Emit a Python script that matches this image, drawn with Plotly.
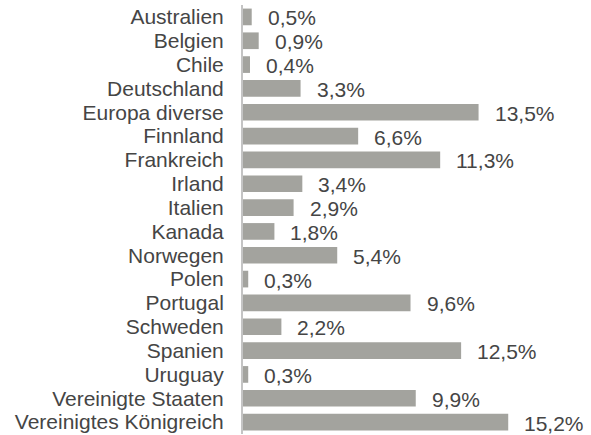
import plotly.graph_objects as go

categories = ["Australien", "Belgien", "Chile", "Deutschland", "Europa diverse", "Finnland",
              "Frankreich", "Irland", "Italien", "Kanada", "Norwegen", "Polen", "Portugal",
              "Schweden", "Spanien", "Uruguay", "Vereinigte Staaten", "Vereinigtes Königreich"]
values = [0.5, 0.9, 0.4, 3.3, 13.5, 6.6, 11.3, 3.4, 2.9, 1.8, 5.4, 0.3, 9.6, 2.2, 12.5, 0.3, 9.9, 15.2]
labels = [f"{v:.1f}%".replace(".", ",") for v in values]

txt = "#454545"
fam = "Arial"
fig = go.Figure(go.Bar(
    x=values, y=categories, orientation="h",
    marker=dict(color="#a3a39e", line=dict(width=0)),
    width=0.7,
))
for c, v, l in zip(categories, values, labels):
    fig.add_annotation(x=v, y=c, text=l, showarrow=False, xanchor="left",
                       xshift=14, yshift=-1, font=dict(family=fam, size=21, color=txt))

fig.update_layout(
    width=591, height=435,
    margin=dict(l=243, r=10, t=5, b=1),
    paper_bgcolor="white", plot_bgcolor="white",
    font=dict(family=fam, size=21, color=txt),
    showlegend=False,
    xaxis=dict(range=[0, 19.37], visible=False),
    yaxis=dict(range=[17.5, -0.5], showline=True, linecolor="#c4c4c4", linewidth=2,
               tickmode="array", tickvals=categories, ticktext=categories,
               ticks="", ticklabelstandoff=13, showgrid=False, zeroline=False,
               tickfont=dict(family=fam, size=21, color=txt)),
)
fig.write_html("out.html", config={"displayModeBar": False},
               post_script="document.body.style.margin='0';")
